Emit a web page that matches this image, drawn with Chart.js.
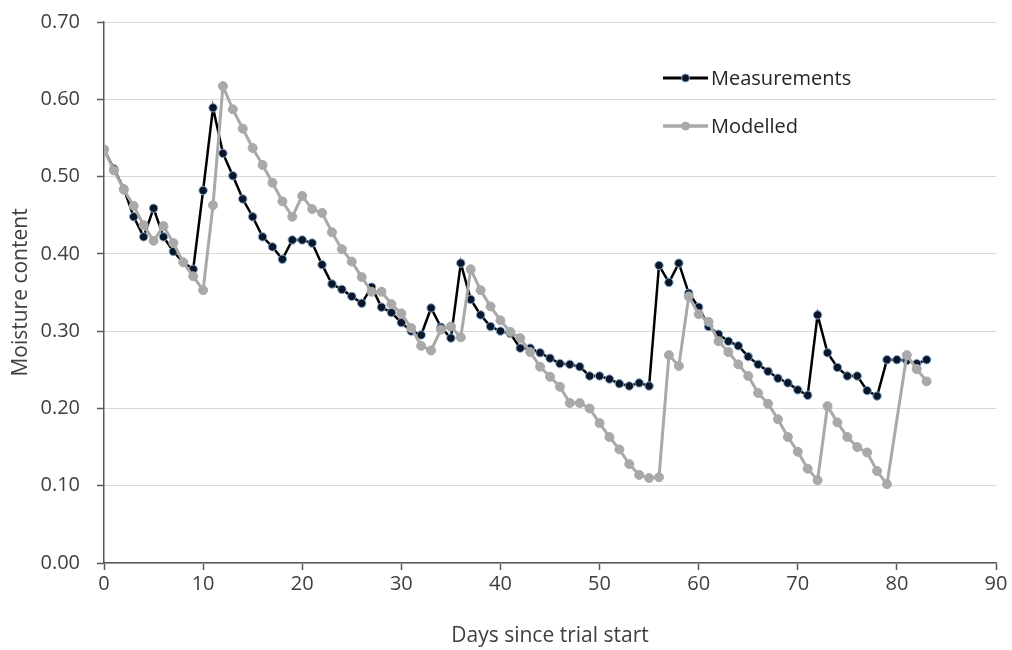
<!DOCTYPE html>
<html>
<head>
<meta charset="utf-8">
<title>Moisture content</title>
<script src="https://cdn.jsdelivr.net/npm/chart.js@4/dist/chart.umd.min.js"></script>
<style>
  html, body { margin: 0; padding: 0; background: #ffffff; }
  #wrap { width: 1012px; height: 650px; }
</style>
</head>
<body>
<div id="wrap"><canvas id="chart" width="1012" height="650"></canvas></div>
<script>
// Day index of each observation
const days = Array.from({ length: 84 }, (_, i) => i);

// Measured moisture content, one value per day
const measurements = [
  0.535, 0.510, 0.484, 0.448, 0.422, 0.459, 0.422, 0.403, 0.389, 0.380,
  0.482, 0.589, 0.530, 0.501, 0.471, 0.448, 0.422, 0.409, 0.393, 0.418,
  0.418, 0.414, 0.386, 0.361, 0.354, 0.345, 0.336, 0.357, 0.331, 0.324,
  0.311, 0.300, 0.295, 0.330, 0.305, 0.291, 0.388, 0.341, 0.321, 0.306,
  0.300, 0.297, 0.278, 0.278, 0.272, 0.265, 0.258, 0.257, 0.254, 0.242,
  0.242, 0.238, 0.232, 0.229, 0.233, 0.229, 0.385, 0.363, 0.388, 0.349,
  0.331, 0.306, 0.296, 0.287, 0.281, 0.267, 0.257, 0.248, 0.239, 0.233,
  0.224, 0.217, 0.321, 0.272, 0.253, 0.242, 0.242, 0.223, 0.216, 0.263,
  0.263, 0.262, 0.258, 0.263
];

// Model output, one value per day (no value on day 80)
const modelled = [
  0.535, 0.508, 0.483, 0.462, 0.437, 0.417, 0.436, 0.414, 0.389, 0.371,
  0.353, 0.463, 0.617, 0.587, 0.562, 0.537, 0.515, 0.492, 0.468, 0.448,
  0.475, 0.458, 0.453, 0.428, 0.406, 0.390, 0.370, 0.351, 0.351, 0.335,
  0.323, 0.304, 0.281, 0.275, 0.302, 0.306, 0.292, 0.380, 0.353, 0.332,
  0.314, 0.299, 0.291, 0.273, 0.254, 0.241, 0.228, 0.207, 0.207, 0.200,
  0.181, 0.163, 0.147, 0.128, 0.114, 0.110, 0.111, 0.269, 0.255, 0.345,
  0.322, 0.312, 0.287, 0.273, 0.257, 0.242, 0.220, 0.206, 0.186, 0.163,
  0.144, 0.122, 0.107, 0.203, 0.182, 0.163, 0.150, 0.143, 0.119, 0.102,
  null, 0.269, 0.251, 0.235
];

const seriesNames = ['Measurements', 'Modelled'];
const xTicks = [0, 10, 20, 30, 40, 50, 60, 70, 80, 90];
const yTicks = [0.00, 0.10, 0.20, 0.30, 0.40, 0.50, 0.60, 0.70];

const FONT = '"Open Sans", "Liberation Sans", sans-serif';
const AXIS_COLOR = '#595959';
const TEXT_COLOR = '#404040';

const toPoints = (vals) => days.map((d, i) => ({ x: d, y: vals[i] }));

// Legend drawn inside the plot area, top right
const innerLegend = {
  id: 'innerLegend',
  afterDraw(chart) {
    const ctx = chart.ctx;
    const items = [
      { ds: chart.data.datasets[1], x: 663, y: 78 },
      { ds: chart.data.datasets[0], x: 663, y: 126 }
    ];
    ctx.save();
    items.forEach(({ ds, x, y }) => {
      ctx.strokeStyle = ds.borderColor;
      ctx.lineWidth = ds.borderWidth + 0.5;
      ctx.beginPath();
      ctx.moveTo(x, y);
      ctx.lineTo(x + 45, y);
      ctx.stroke();
      ctx.beginPath();
      ctx.arc(x + 22.5, y, 4, 0, Math.PI * 2);
      ctx.fillStyle = ds.pointBackgroundColor;
      ctx.fill();
      ctx.lineWidth = 1;
      ctx.strokeStyle = ds.pointBorderColor;
      ctx.stroke();
      ctx.fillStyle = '#262626';
      ctx.font = '20px ' + FONT;
      ctx.textAlign = 'left';
      ctx.textBaseline = 'middle';
      ctx.fillText(ds.label, x + 48, y + 1);
    });
    ctx.restore();
  }
};

new Chart(document.getElementById('chart'), {
  type: 'line',
  data: {
    datasets: [
      {
        label: seriesNames[1],
        data: toPoints(modelled),
        borderColor: '#a9a9a9',
        borderWidth: 3,
        pointRadius: 4.5,
        pointBackgroundColor: '#a9a9a9',
        pointBorderColor: '#a9a9a9',
        pointBorderWidth: 1,
        spanGaps: true,
        tension: 0
      },
      {
        label: seriesNames[0],
        data: toPoints(measurements),
        borderColor: '#000000',
        borderWidth: 2.5,
        pointRadius: 4.2,
        pointBackgroundColor: '#0b1628',
        pointBorderColor: '#7fa7cf',
        pointBorderWidth: 1,
        tension: 0
      }
    ]
  },
  options: {
    responsive: false,
    devicePixelRatio: 1,
    animation: false,
    layout: { padding: { top: 22, right: 16, bottom: 0, left: 0 } },
    plugins: {
      legend: { display: false },
      tooltip: { enabled: false }
    },
    scales: {
      x: {
        type: 'linear',
        min: xTicks[0],
        max: xTicks[xTicks.length - 1],
        afterFit: (s) => { s.height = 87; },
        afterBuildTicks: (s) => { s.ticks = xTicks.map(v => ({ value: v })); },
        border: { display: true, color: AXIS_COLOR, width: 1.5 },
        grid: { drawOnChartArea: false, drawTicks: true, tickLength: 7, tickColor: AXIS_COLOR, tickWidth: 1.5 },
        ticks: {
          padding: 2,
          color: TEXT_COLOR,
          font: { family: FONT, size: 20 },
          maxRotation: 0,
          callback: (v) => String(v)
        },
        title: {
          display: true,
          text: 'Days since trial start',
          color: TEXT_COLOR,
          font: { family: FONT, size: 21 },
          padding: { top: 0, bottom: 1 }
        }
      },
      y: {
        type: 'linear',
        min: yTicks[0],
        max: yTicks[yTicks.length - 1],
        afterFit: (s) => { s.width = 104; s.paddingTop = 12; s.paddingBottom = 12; },
        afterBuildTicks: (s) => { s.ticks = yTicks.map(v => ({ value: v })); },
        border: { display: true, color: AXIS_COLOR, width: 1.5 },
        grid: { color: '#d9d9d9', lineWidth: 1, drawTicks: true, tickLength: 7, tickColor: AXIS_COLOR, tickWidth: 1.5 },
        ticks: {
          padding: 17,
          color: TEXT_COLOR,
          font: { family: FONT, size: 20 },
          callback: (v) => Number(v).toFixed(2)
        },
        title: {
          display: true,
          text: 'Moisture content',
          color: TEXT_COLOR,
          font: { family: FONT, size: 21 },
          padding: { top: 8, bottom: 0 }
        }
      }
    }
  },
  plugins: [innerLegend]
});
</script>
</body>
</html>
